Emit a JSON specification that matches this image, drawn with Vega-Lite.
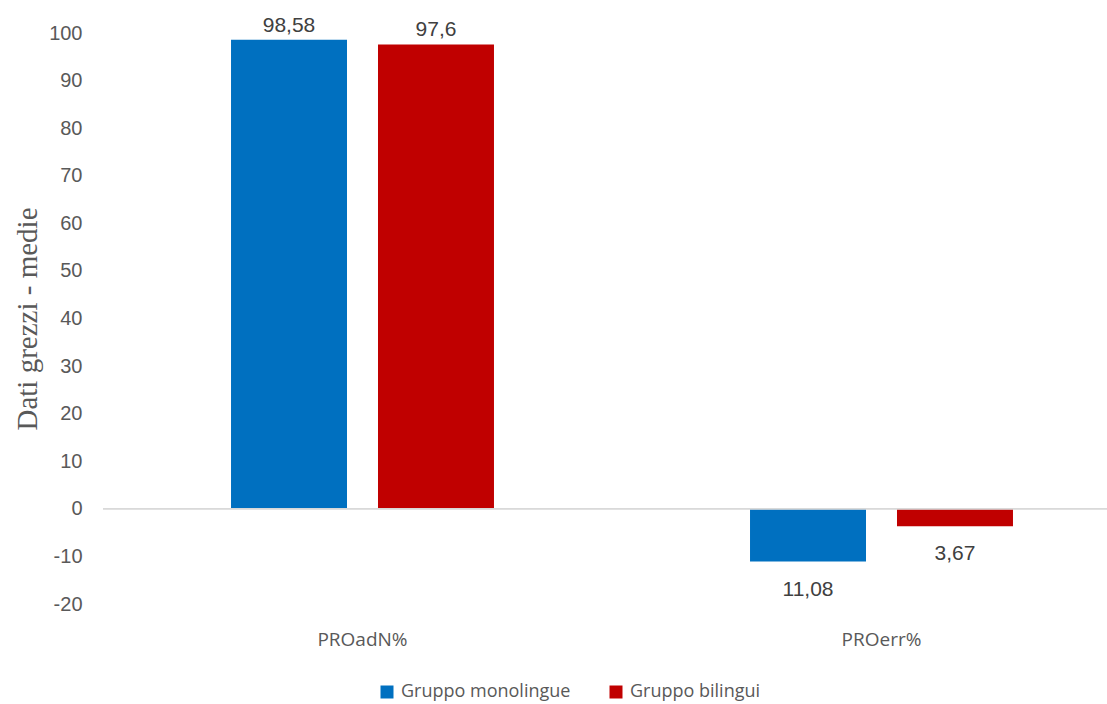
{
  "$schema": "https://vega.github.io/schema/vega-lite/v6.json",
  "autosize": {"type": "none"},
  "padding": {"left": 103, "top": 33, "right": 0, "bottom": 100},
  "width": 1004,
  "height": 571,
  "background": "white",
  "config": {"view": {"stroke": null}},
  "data": {"values": [
    {"cat": "PROadN%", "group": "Gruppo monolingue", "value": 98.58, "label": "98,58"},
    {"cat": "PROadN%", "group": "Gruppo bilingui", "value": 97.6, "label": "97,6"},
    {"cat": "PROerr%", "group": "Gruppo monolingue", "value": -11.08, "label": "11,08"},
    {"cat": "PROerr%", "group": "Gruppo bilingui", "value": -3.67, "label": "3,67"}
  ]},
  "encoding": {
    "x": {"field": "cat", "type": "nominal", "sort": null,
      "scale": {"range": [0, 1038], "paddingInner": 0, "paddingOuter": 0},
      "axis": {"title": null, "domain": false, "ticks": false, "labelAngle": 0, "labelPadding": 26,
        "labelFont": "Open Sans", "labelFontSize": 19, "labelColor": "#595959"}},
    "xOffset": {"field": "group", "type": "nominal",
      "scale": {"domain": ["Gruppo monolingue", "Gruppo bilingui"], "paddingInner": 0.2109, "paddingOuter": 0.871}},
    "y": {"field": "value", "type": "quantitative",
      "scale": {"domain": [-20, 100], "nice": false, "zero": false},
      "axis": {"title": "Dati grezzi - medie", "titleFont": "Liberation Serif", "titleFontSize": 29, "titleFontWeight": "normal",
        "titleColor": "#595959", "titlePadding": 6,
        "values": [-20, -10, 0, 10, 20, 30, 40, 50, 60, 70, 80, 90, 100],
        "labelExpr": "'' + datum.value",
        "grid": false, "domain": false, "ticks": false, "labelPadding": 21,
        "labelFont": "Liberation Sans", "labelFontSize": 20, "labelColor": "#595959"}}
  },
  "layer": [
    {
      "mark": {"type": "bar"},
      "encoding": {
        "color": {"field": "group", "type": "nominal",
          "scale": {"domain": ["Gruppo monolingue", "Gruppo bilingui"], "range": ["#0070C0", "#C00000"]},
          "legend": {"title": null, "orient": "none", "direction": "horizontal", "legendX": 275, "legendY": 650,
            "symbolType": "square", "symbolSize": 169, "symbolStrokeWidth": 0,
            "labelFont": "Open Sans", "labelFontSize": 18, "labelColor": "#595959", "labelLimit": 400,
            "columnPadding": 36, "labelOffset": 5}}
      }
    },
    {
      "mark": {"type": "rule", "color": "#d9d9d9", "strokeWidth": 1},
      "encoding": {"y": {"datum": 0}, "x": null, "xOffset": null}
    },
    {
      "transform": [{"filter": "datum.value >= 0"}],
      "mark": {"type": "text", "baseline": "alphabetic", "dy": -8, "font": "Liberation Sans", "fontSize": 21, "color": "#404040"},
      "encoding": {"text": {"field": "label"}}
    },
    {
      "transform": [{"filter": "datum.value < 0"}],
      "mark": {"type": "text", "baseline": "alphabetic", "dy": 34, "font": "Liberation Sans", "fontSize": 21, "color": "#404040"},
      "encoding": {"text": {"field": "label"}}
    }
  ]
}
